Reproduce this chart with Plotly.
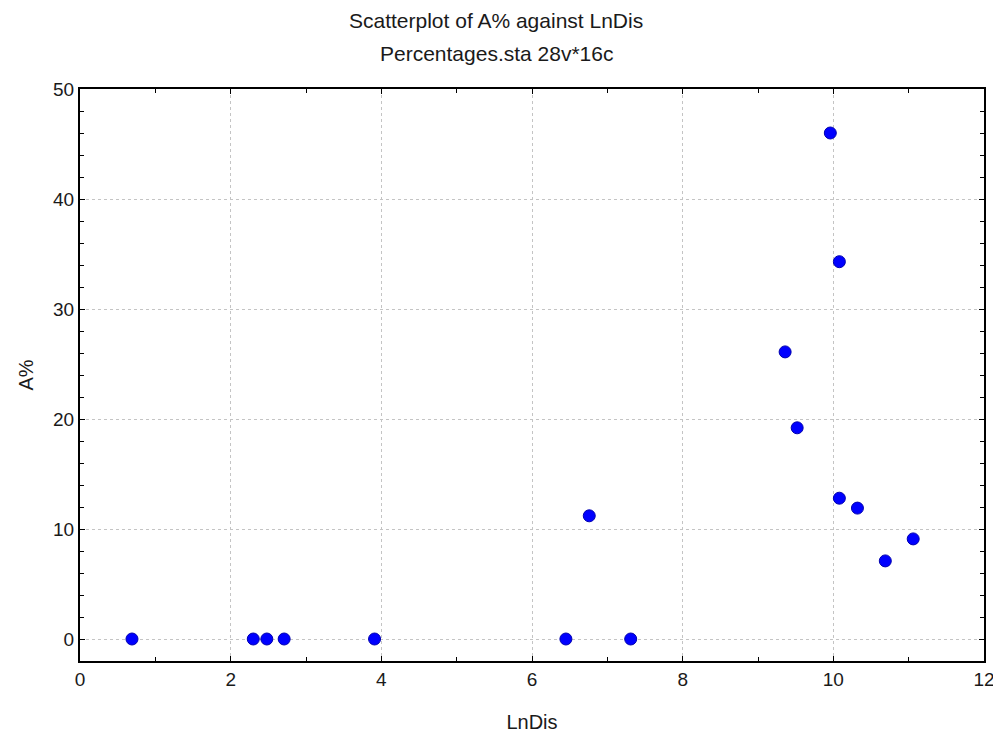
import plotly.graph_objects as go

ln_dis = [0.69, 2.30, 2.48, 2.71, 3.91, 6.45, 7.31, 6.76, 9.36, 9.52, 9.96, 10.08, 10.08, 10.32, 10.69, 11.06]
a_pct = [0, 0, 0, 0, 0, 0, 0, 11.2, 26.1, 19.2, 46.0, 34.3, 12.8, 11.9, 7.1, 9.1]

x_ticks = [0, 2, 4, 6, 8, 10, 12]
y_ticks = [0, 10, 20, 30, 40, 50]

font = "Liberation Sans, Arial, sans-serif"
txt_color = "#1a1a1a"

# page body has an 8px margin; place plot area in window coordinates
OFF = 8
W, H = 1001, 743
L, R, T, B = 80 - OFF, W - 984 + OFF, 89 - OFF, H - 661 + OFF

fig = go.Figure()
fig.add_trace(go.Scatter(
    x=ln_dis, y=a_pct, mode="markers",
    marker=dict(size=12, color="#0000FF", line=dict(color="#0000B0", width=1)),
    showlegend=False,
))

axis_common = dict(
    showline=True, linecolor="black", linewidth=2, mirror="allticks",
    ticks="inside", ticklen=5, tickcolor="black", tickwidth=1,
    showgrid=True, gridcolor="#C4C4C4", griddash="dot", gridwidth=1,
    zeroline=False,
    tickfont=dict(family=font, size=19, color=txt_color),
)

fig.update_xaxes(
    range=[0, 12], tickvals=x_ticks, ticktext=[str(v) for v in x_ticks],
    minor=dict(ticks="inside", ticklen=4, tickcolor="black", dtick=1, tick0=0, showgrid=False),
    title=dict(text="LnDis", font=dict(family=font, size=20, color=txt_color), standoff=26),
    **axis_common,
)
fig.update_yaxes(
    range=[-2, 50], tickvals=y_ticks, ticktext=[str(v) for v in y_ticks],
    minor=dict(ticks="inside", ticklen=4, tickcolor="black", dtick=2, tick0=0, showgrid=False),
    title=dict(text="A%", font=dict(family=font, size=20, color=txt_color), standoff=14),
    **axis_common,
)

fig.update_layout(
    width=W, height=H,
    margin=dict(l=L, r=R, t=T, b=B, autoexpand=False),
    paper_bgcolor="white", plot_bgcolor="white",
)

plot_h = 661 - 89
plot_w = 984 - 80
def py(pix):
    return (661 - pix) / plot_h
def px(pix):
    return (pix - 80) / plot_w

fig.add_annotation(text="Scatterplot of A% against LnDis", xref="paper", yref="paper",
                   x=px(496), y=py(21), showarrow=False, yanchor="middle",
                   font=dict(family=font, size=21, color=txt_color))
fig.add_annotation(text="Percentages.sta 28v*16c", xref="paper", yref="paper",
                   x=px(496), y=py(54), showarrow=False, yanchor="middle",
                   font=dict(family=font, size=21, color=txt_color))

fig.write_html("out.html")
